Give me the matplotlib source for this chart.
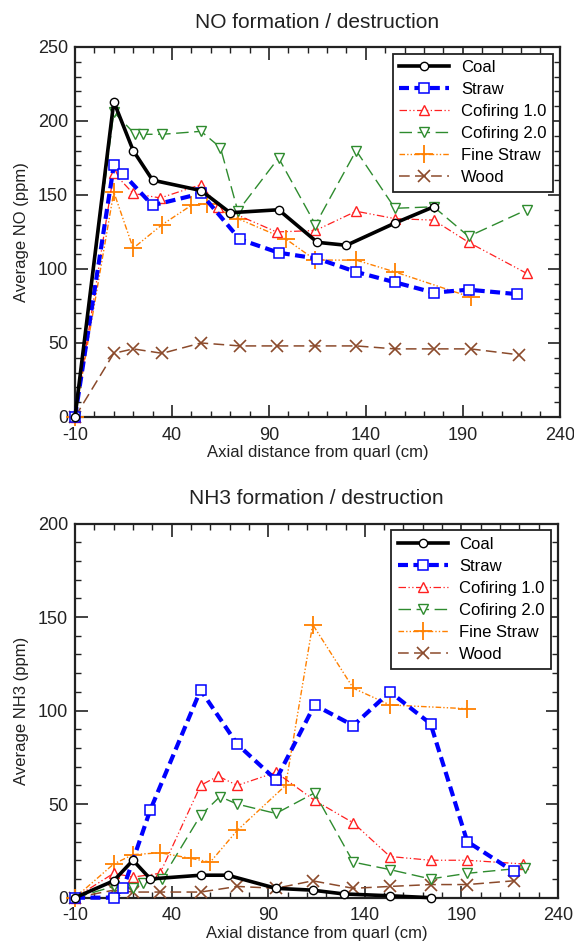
import matplotlib
matplotlib.use("Agg")
import matplotlib.pyplot as plt
from matplotlib.ticker import MultipleLocator

plt.rcParams['font.family'] = ['Liberation Sans', 'DejaVu Sans']
plt.rcParams['axes.unicode_minus'] = False

# ---------------- data: NO ----------------
coal_no_x = [-10, 10, 20, 30, 55, 70, 95, 115, 130, 155, 175]
coal_no = [0, 213, 180, 160, 153, 138, 140, 118, 116, 131, 142]
straw_no_x = [-10, 10, 15, 30, 55, 75, 95, 115, 135, 155, 175, 193, 218]
straw_no = [0, 170, 164, 143, 151, 120, 111, 107, 98, 91, 84, 86, 83]
cof1_no_x = [-10, 10, 20, 34, 55, 64, 94, 114, 135, 155, 175, 193, 223]
cof1_no = [0, 165, 151, 148, 157, 142, 125, 126, 139, 134, 133, 118, 97]
cof2_no_x = [-10, 10, 21, 25, 35, 55, 65, 74, 95, 114, 135, 155, 175, 193, 223]
cof2_no = [0, 206, 191, 191, 191, 193, 182, 139, 175, 130, 180, 141, 142, 122, 140]
fine_no_x = [-10, 10, 20, 35, 50, 58, 74, 99, 114, 135, 155, 194]
fine_no = [0, 152, 114, 130, 143, 144, 134, 120, 106, 106, 98, 81]
wood_no_x = [-10, 10, 20, 35, 55, 75, 94, 114, 135, 155, 175, 194, 219]
wood_no = [0, 43, 46, 43, 50, 48, 48, 48, 48, 46, 46, 46, 42]

# ---------------- data: NH3 ----------------
coal_nh3_x = [-10, 10, 20, 29, 55, 69, 94, 113, 129, 153, 174]
coal_nh3 = [0, 9, 20, 10, 12, 12, 5, 4, 2, 1, 0]
straw_nh3_x = [-10, 10, 15, 29, 55, 74, 94, 114, 134, 153, 174, 193, 217]
straw_nh3 = [0, 0, 5, 47, 111, 82, 63, 103, 92, 110, 93, 30, 14]
cof1_nh3_x = [-10, 10, 20, 34, 55, 64, 74, 94, 114, 134, 153, 174, 193, 222]
cof1_nh3 = [0, 13, 11, 13, 60, 65, 60, 67, 52, 40, 22, 20, 20, 18]
cof2_nh3_x = [-10, 10, 20, 25, 35, 55, 65, 74, 94, 114, 134, 153, 174, 193, 223]
cof2_nh3 = [0, 6, 5, 8, 10, 44, 54, 50, 45, 56, 19, 15, 10, 13, 16]
fine_nh3_x = [-10, 10, 20, 34, 50, 60, 74, 99, 113, 134, 153, 193]
fine_nh3 = [0, 18, 23, 24, 21, 19, 36, 60, 146, 112, 103, 101]
wood_nh3_x = [-10, 10, 20, 34, 55, 74, 94, 113, 134, 153, 174, 193, 217]
wood_nh3 = [0, 4, 3, 3, 3, 6, 5, 9, 5, 6, 7, 7, 9]

series_names = ["Coal", "Straw", "Cofiring 1.0", "Cofiring 2.0", "Fine Straw", "Wood"]
x_ticks = [-10, 40, 90, 140, 190, 240]

styles = [
    dict(color='black', lw=2.6, ls='-', marker='o', ms=6, mfc='white', mec='black', mew=1.0, zorder=6),
    dict(color='#0000FF', lw=3.0, ls=(0, (2.4, 1.3)), marker='s', ms=7, mfc='white', mec='#0000FF', mew=1.1, zorder=5),
    dict(color='#FF2020', lw=0.9, ls=(0, (6, 2, 1, 2, 1, 2)), marker='^', ms=7.5, mfc='white', mec='#FF2020', mew=1.0, zorder=4),
    dict(color='#2E8B2E', lw=1.0, ls=(0, (9, 4)), marker='v', ms=7.5, mfc='white', mec='#2E8B2E', mew=1.0, zorder=4),
    dict(color='#FF8000', lw=1.0, ls=(0, (4, 1.5, 1, 1.5, 1, 1.5)), marker='+', ms=13, mec='#FF8000', mew=1.3, zorder=3),
    dict(color='#8B4A2B', lw=1.1, ls=(0, (7, 3.5)), marker='x', ms=9, mec='#8B4A2B', mew=1.2, zorder=3),
]

fig = plt.figure(figsize=(5.74, 9.47), dpi=100)
ax1 = fig.add_axes([0.1307, 0.5597, 0.8444, 0.3907])
ax2 = fig.add_axes([0.1307, 0.0521, 0.8415, 0.3951])


def setup(ax, ymax, title, ylabel):
    ax.set_xlim(-10, 240)
    ax.set_ylim(0, ymax)
    ax.set_xticks(x_ticks)
    ax.xaxis.set_minor_locator(MultipleLocator(10))
    ax.yaxis.set_major_locator(MultipleLocator(50))
    ax.yaxis.set_minor_locator(MultipleLocator(10))
    ax.tick_params(which='both', direction='in', top=True, right=True, labelsize=13, colors='#222222')
    ax.tick_params(which='major', length=9, width=1.2)
    ax.tick_params(which='minor', length=4, width=1.0)
    ax.tick_params(axis='x', which='major', pad=7)
    ax.tick_params(axis='y', which='major', pad=5)
    for s in ax.spines.values():
        s.set_linewidth(1.6)
        s.set_color('#222222')
    ax.set_title(title, fontsize=15, pad=14, color='#222222')
    ax.set_xlabel("Axial distance from quarl (cm)", fontsize=12, labelpad=1, color='#222222')
    ax.set_ylabel(ylabel, fontsize=12, labelpad=6, color='#222222')


data_no = [(coal_no_x, coal_no), (straw_no_x, straw_no), (cof1_no_x, cof1_no),
           (cof2_no_x, cof2_no), (fine_no_x, fine_no), (wood_no_x, wood_no)]
data_nh3 = [(coal_nh3_x, coal_nh3), (straw_nh3_x, straw_nh3), (cof1_nh3_x, cof1_nh3),
            (cof2_nh3_x, cof2_nh3), (fine_nh3_x, fine_nh3), (wood_nh3_x, wood_nh3)]

for ax, data, ymax, title, ylabel in [
    (ax1, data_no, 250, "NO formation / destruction", "Average NO (ppm)"),
    (ax2, data_nh3, 200, "NH3 formation / destruction", "Average NH3 (ppm)"),
]:
    setup(ax, ymax, title, ylabel)
    for (xs, ys), name, st in zip(data, series_names, styles):
        ax.plot(xs, ys, label=name, clip_on=False, **st)
    leg = ax.legend(loc='upper right', fontsize=12, frameon=True, fancybox=False,
                    edgecolor='#222222', framealpha=1, handlelength=3.0,
                    handletextpad=0.7, labelspacing=0.42, borderpad=0.4,
                    borderaxespad=0.4)
    leg.get_frame().set_linewidth(1.3)
    leg.set_zorder(10)

fig.savefig("out.png", dpi=100)
